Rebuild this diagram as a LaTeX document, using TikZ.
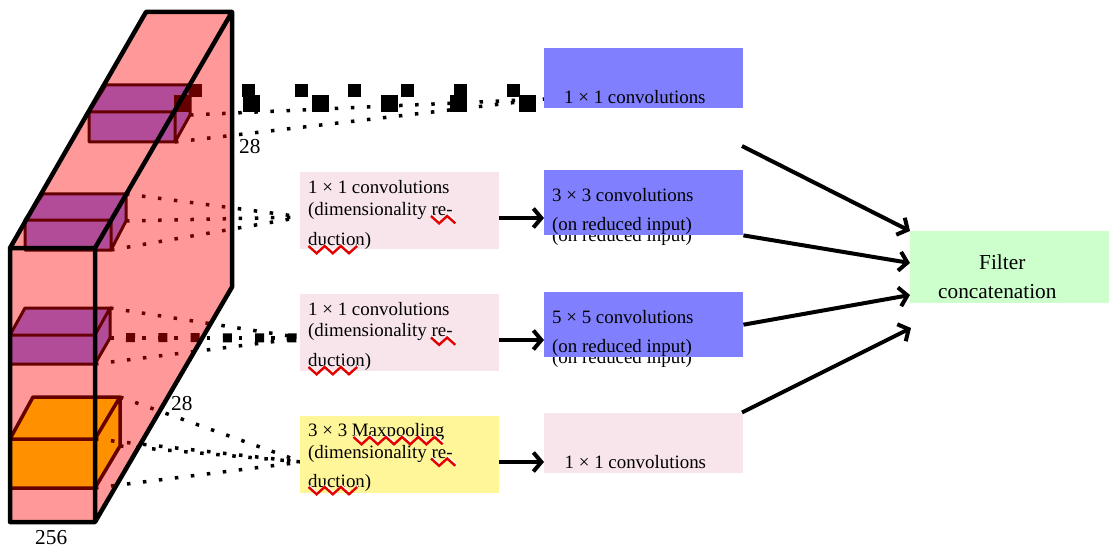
\documentclass[tikz,border=0pt]{standalone}
\usepackage{fontspec}
\setmainfont{Liberation Serif}
\definecolor{boxblue}{RGB}{128, 128, 255}
\definecolor{boxpink}{RGB}{247, 229, 235}
\definecolor{boxyellow}{RGB}{255, 246, 153}
\definecolor{boxgreen}{RGB}{204, 255, 204}
\usetikzlibrary{arrows.meta}
\newcommand{\wavyline}[3]{%
    \draw[white, line width=1.5pt] (#1+1,#2-1.5) \foreach \k in {1,...,#3} { -- ++(8.1,{mod(\k,2)==1 ? 7.3 : -7.3}) };
    \draw[red!90!black, line width=2.4pt] (#1,#2) \foreach \k in {1,...,#3} { -- ++(8.1,{mod(\k,2)==1 ? 7.3 : -7.3}) };
}

\begin{document}
\begin{tikzpicture}[x=1pt, y=-1pt,
    box/.style={draw=none, inner sep=0pt, minimum width=199pt},
    txt/.style={anchor=base west, inner sep=0pt, align=left, font=\fontsize{18.9}{22}\selectfont},
    bigtxt/.style={txt, font=\fontsize{21.3}{24}\selectfont},
    cube/.style={draw=black, line width=3pt, line join=round},
    dots/.style={line width=3.5pt, dash pattern=on 3.5pt off 12.6pt},
    link/.style={-{Straight Barb[length=8pt, width=19pt, line width=4pt]}, line width=4pt}]
    \useasboundingbox (0,0) rectangle (1117,559);

    % corners of the inner blocks
    \coordinate (oneTop) at (190,115);
    \coordinate (oneBot) at (175,142);
    \coordinate (twoTop) at (126,194);
    \coordinate (twoMid) at (126,221);
    \coordinate (twoBot) at (111,250);
    \coordinate (threeTop) at (110,308);
    \coordinate (threeMid) at (110,338);
    \coordinate (threeBot) at (95,364);
    \coordinate (poolTop) at (120,397);
    \coordinate (poolFront) at (95,439);
    \coordinate (poolMid) at (120,446);
    \coordinate (poolBot) at (95,488);
    \coordinate (inOne) at (544,99);
    \coordinate (inTwo) at (302,217);
    \coordinate (inThree) at (302,338);
    \coordinate (inPool) at (302,462);

    \fill[boxblue] (89,112) -- (106,85) -- (190,85) -- (190,115) -- (175,142) -- (89,142) -- cycle;
    \draw[cube] (89,112) -- (106,85) -- (190,85) -- (190,115) -- (175,142) -- (89,142) -- cycle (89,112) -- (175,112) -- (190,85) (175,112) -- (175,142);
    \fill[boxblue] (25,220) -- (43,194) -- (126,194) -- (126,221) -- (111,250) -- (25,250) -- cycle;
    \draw[cube] (25,220) -- (43,194) -- (126,194) -- (126,221) -- (111,250) -- (25,250) -- cycle (25,220) -- (111,220) -- (126,194) (111,220) -- (111,250);
    \fill[boxblue] (10,335) -- (25,308) -- (110,308) -- (110,338) -- (95,364) -- (10,364) -- cycle;
    \draw[cube] (10,335) -- (25,308) -- (110,308) -- (110,338) -- (95,364) -- (10,364) -- cycle (10,335) -- (95,335) -- (110,308);
    \fill[yellow] (10,439) -- (33,397) -- (120,397) -- (120,446) -- (95,488) -- (10,488) -- cycle;
    \draw[cube, line width=3.5pt] (10,439) -- (33,397) -- (120,397) -- (120,446) -- (95,488) -- (10,488) (10,439) -- (95,439) -- (120,397);

    % dotted links
    \draw[dots] (oneTop) -- (inOne);
    \draw[dots] (oneBot) -- (inOne);
    \draw[line width=13pt, dash pattern=on 13pt off 40.1pt] (188.5,90.5) -- (521,90.5);
    \draw[line width=17pt, dash pattern=on 17pt off 52pt] (174,104) -- (537,104);
    \foreach \from in {twoTop, twoMid, twoBot} {
        \draw[dots] (\from) -- (inTwo);
    }
    \foreach \from in {threeTop, threeMid, threeBot} {
        \draw[dots] (\from) -- (inThree);
    }
    \draw[line width=9pt, dash pattern=on 9pt off 23.3pt] (126,337.5) -- (inThree);
    \foreach \from in {poolTop, poolFront, poolMid, poolBot} {
        \draw[dots] (\from) -- (inPool);
    }

    % input volume
    \fill[red, fill opacity=0.4] (10,248) -- (146,12) -- (232,12) -- (232,287) -- (95,522) -- (10,522) -- cycle;
    \draw[black, line width=4.5pt, line join=round] (10,248) -- (146,12) -- (232,12) -- (232,287) -- (95,522) -- (10,522) -- cycle (10,248) -- (95,248) -- (232,12) (95,248) -- (95,522);
    \node[bigtxt] (sizeA) at (239,154) {28};
    \node[bigtxt] (sizeB) at (171,410) {28};
    \node[bigtxt] (sizeC) at (35,544) {256};

    \node[txt] (underA) at (552,241) {(on reduced input)};
    \node[txt] (underB) at (552,363) {(on reduced input)};

    \node[box, fill=boxblue, minimum height=60pt, anchor=north west] (convOne) at (544,48) {};
    \node[box, fill=boxblue, minimum height=65pt, anchor=north west] (convThree) at (544,170) {};
    \node[box, fill=boxblue, minimum height=65pt, anchor=north west] (convFive) at (544,292) {};
    \node[box, fill=boxpink, minimum height=60pt, anchor=north west] (convPool) at (544,413) {};
    \node[box, fill=boxpink, minimum height=77pt, anchor=north west] (reduceA) at (300,172) {};
    \node[box, fill=boxpink, minimum height=77pt, anchor=north west] (reduceB) at (300,294) {};
    \node[box, fill=boxyellow, minimum height=77pt, anchor=north west] (reduceC) at (300,416) {};
    \node[box, fill=boxgreen, minimum height=72pt, anchor=north west] (filter) at (910,231) {};

    \node[txt] (textOne) at (564,103.3) {1 × 1 convolutions};
    \node[txt] (textThree) at (552,230) {3 × 3 convolutions\\[6.3pt](on reduced input)};
    \node[txt] (textFive) at (552,352) {5 × 5 convolutions\\[6.3pt](on reduced input)};
    \node[txt] (textPool) at (564.5,468.3) {1 × 1 convolutions};
    \node[txt] (textA) at (308,245) {1 × 1 convolutions\\(dimensionality re-\\[8pt]duction)};
    \node[txt] (textB) at (308,366.3) {1 × 1 convolutions\\[-0.8pt](dimensionality re-\\[8pt]duction)};
    \node[txt] (textC) at (308,487.6) {3 × 3 Maxpooling\\(dimensionality re-\\[7pt]duction)};
    \node[bigtxt] (textFilterA) at (979,269) {Filter};
    \node[bigtxt] (textFilterB) at (938,298.2) {concatenation};

    \wavyline{431}{216}{3}
    \wavyline{308.5}{246}{6}
    \wavyline{431}{337.5}{3}
    \wavyline{308.5}{367}{6}
    \wavyline{353.5}{437}{11}
    \wavyline{431}{458.5}{3}
    \wavyline{308.5}{487}{6}

    % links to the next stage
    \coordinate (fromOne) at (742,146);
    \coordinate (fromPool) at (742,412.5);
    \coordinate (toB) at (910,263);
    \coordinate (toC) at (910,295);
    \coordinate (toD) at (911,328);
    \draw[link] (reduceA.east |- 0,218) -- (convThree.west |- 0,218);
    \draw[link] (reduceB.east |- 0,340) -- (convFive.west |- 0,340);
    \draw[link] (reduceC.east |- 0,462) -- (convPool.west |- 0,462);
    \draw[link] (fromOne) -- (filter.north west);
    \draw[link] (convThree.south east) -- (toB);
    \draw[link] (convFive.east) -- (toC);
    \draw[link] (fromPool) -- (toD);
\end{tikzpicture}
\end{document}
